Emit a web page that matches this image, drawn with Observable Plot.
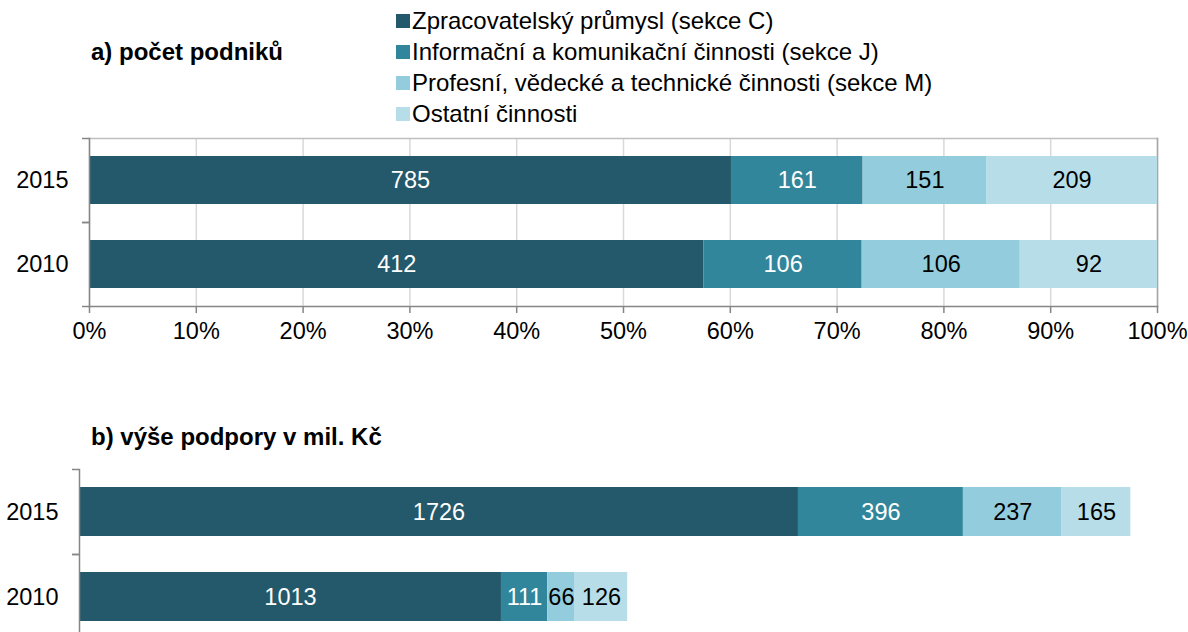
<!DOCTYPE html>
<html>
<head>
<meta charset="utf-8">
<script src="https://cdn.jsdelivr.net/npm/d3@7"></script>
<script src="https://cdn.jsdelivr.net/npm/@observablehq/plot@0.6"></script>
<style>
  html, body { margin: 0; padding: 0; background: #fff; overflow: hidden; }
  body { width: 1188px; height: 632px; position: relative; font-family: "Liberation Sans", Arial, sans-serif; color: #000; }
  .abs { position: absolute; }
  .title { font-weight: bold; font-size: 24px; line-height: 28px; }
  .legend { left: 396px; top: 5px; font-size: 24px; line-height: 31px; }
  .legend .row { display: flex; align-items: center; white-space: nowrap; }
  .legend .sw { width: 14px; height: 14px; margin-right: 2px; display: inline-block; }
</style>
</head>
<body>
<div id="legend" class="abs legend"></div>
<div class="abs title" style="left:91px; top:38px;">a) počet podniků</div>
<div class="abs title" style="left:91px; top:423px;">b) výše podpory v mil. Kč</div>
<div id="chartA" class="abs" style="left:0; top:130px;"></div>
<div id="chartB" class="abs" style="left:0; top:459px;"></div>
<script>
// ---- data ----
const years = ["2015", "2010"];
const series = [
  "Zpracovatelský průmysl (sekce C)",
  "Informační a komunikační činnosti (sekce J)",
  "Profesní, vědecké a technické činnosti (sekce M)",
  "Ostatní činnosti"
];
const colors = ["#23596a", "#31869b", "#93cddd", "#b7dee8"];
const labelColors = ["#ffffff", "#ffffff", "#000000", "#000000"];
// a) number of companies
const countsA = {
  "2015": [785, 161, 151, 209],
  "2010": [412, 106, 106, 92]
};
// b) support in mil. CZK
const supportB = {
  "2015": [1726, 396, 237, 165],
  "2010": [1013, 111, 66, 126]
};
const pctTicks = [0, 10, 20, 30, 40, 50, 60, 70, 80, 90, 100];

function toRows(obj) {
  const rows = [];
  for (const y of years) obj[y].forEach((v, i) => rows.push({year: y, series: series[i], idx: i, value: v}));
  return rows;
}
const rowsA = toRows(countsA);
const rowsB = toRows(supportB);

// ---- legend ----
const lg = document.getElementById("legend");
series.forEach((s, i) => {
  const r = document.createElement("div");
  r.className = "row";
  r.innerHTML = `<span class="sw" style="background:${colors[i]}"></span><span>${s}</span>`;
  lg.appendChild(r);
});

const axisGray = "#868686";
const fontSize = 23.5;
const pIn = 0.424, pOut = 0.212;

function chart({rows, offset, xDomain, mLeft, mRight, mTop, mBottom, plotH, pct}) {
  const height = mTop + plotH + mBottom;
  const step = plotH / 2;
  const st = {x: "value", y: "year", order: null, offset};
  const marks = [];
  if (pct) {
    marks.push(Plot.gridX(pctTicks.map(d => d / 100), {stroke: "#d9d9d9", strokeOpacity: 1, strokeWidth: 1.5}));
    marks.push(Plot.frame({anchor: "top", stroke: "#bfbfbf", strokeWidth: 1.5}));
    marks.push(Plot.frame({anchor: "right", stroke: "#a6a6a6", strokeWidth: 1.5}));
  }
  marks.push(Plot.barX(rows, Plot.stackX({...st, fill: "series"})));
  marks.push(Plot.text(rows, Plot.stackX({...st, text: d => labelColors[d.idx] === "#ffffff" ? String(d.value) : "", fill: "#fff", fontSize})));
  marks.push(Plot.text(rows, Plot.stackX({...st, text: d => labelColors[d.idx] === "#000000" ? String(d.value) : "", fill: "#000", fontSize})));
  marks.push(Plot.frame({anchor: "left", stroke: axisGray, strokeWidth: 1.5}));
  marks.push(Plot.axisY({tickSize: 0, tickPadding: 21, fontSize, fill: "#000"}));
  marks.push(Plot.axisY({text: null, tickSize: 7, dy: -step / 2, stroke: axisGray, strokeWidth: 1.5}));
  marks.push(Plot.axisY({text: null, tickSize: 7, dy: step / 2, stroke: axisGray, strokeWidth: 1.5}));
  if (pct) {
    marks.push(Plot.frame({anchor: "bottom", stroke: axisGray, strokeWidth: 1.5}));
    marks.push(Plot.axisX({ticks: pctTicks.map(d => d / 100), tickFormat: d3.format(".0%"), tickSize: 7, tickPadding: 9, stroke: axisGray, strokeWidth: 1.5, fontSize, fill: "#000"}));
  } else {
    marks.push(Plot.axisX({ticks: [], label: null}));
  }
  return Plot.plot({
    width: 1188,
    height,
    marginLeft: mLeft,
    marginRight: mRight,
    marginTop: mTop,
    marginBottom: mBottom,
    style: {fontFamily: "'Liberation Sans', Arial, sans-serif", color: "#000", background: "transparent"},
    x: {domain: xDomain, label: null},
    y: {domain: years, label: null, paddingInner: pIn, paddingOuter: pOut},
    color: {domain: series, range: colors},
    marks
  });
}

document.getElementById("chartA").appendChild(chart({
  rows: rowsA, offset: "normalize", xDomain: [0, 1],
  mLeft: 89, mRight: 31, mTop: 8, mBottom: 50, plotH: 168, pct: true
}));
document.getElementById("chartB").appendChild(chart({
  rows: rowsB, offset: null, xDomain: [0, 2600],
  mLeft: 79, mRight: 26, mTop: 10, mBottom: 10, plotH: 170, pct: false
}));
</script>
</body>
</html>
